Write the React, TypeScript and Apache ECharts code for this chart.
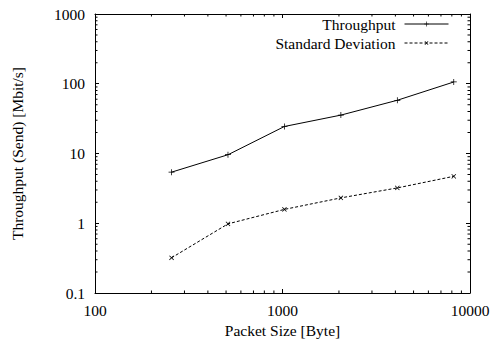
import React, { useEffect, useRef } from "react";
import * as echarts from "echarts";

const packetSizes = [256, 512, 1024, 2048, 4096, 8192];
const throughput = [5.4, 9.6, 24.4, 35.5, 58, 106];
const stdDev = [0.32, 0.98, 1.58, 2.31, 3.21, 4.71];
const xTickLabels = ["100", "1000", "10000"];
const yTickLabels = ["0.1", "1", "10", "100", "1000"];
const xMinorTicks = [200, 300, 400, 500, 600, 700, 800, 900, 2000, 3000, 4000, 5000, 6000, 7000, 8000, 9000];
const yMinorTicks = [
  0.2, 0.3, 0.4, 0.5, 0.6, 0.7, 0.8, 0.9,
  2, 3, 4, 5, 6, 7, 8, 9,
  20, 30, 40, 50, 60, 70, 80, 90,
  200, 300, 400, 500, 600, 700, 800, 900,
];

const X_MIN = 100, X_MAX = 10000, Y_MIN = 0.1, Y_MAX = 1000;
const FONT = "Liberation Serif";
const FS = 15.5;
const PLUS = "path://M-0.5,-4H0.5V-0.5H4V0.5H0.5V4H-0.5V0.5H-4V-0.5H-0.5Z";

export default function App() {
  const ref = useRef<HTMLDivElement>(null);
  useEffect(() => {
    const chart = echarts.init(ref.current!, undefined, { renderer: "svg" });
    const axisCommon = {
      type: "log" as const,
      logBase: 10,
      axisLine: { show: true, lineStyle: { color: "#000", width: 1 } },
      axisTick: { show: true, inside: true, length: 4, lineStyle: { color: "#000" } },
      splitLine: { show: false },
      minorTick: { show: false },
    };
    chart.setOption({
      animation: false,
      backgroundColor: "#fff",
      textStyle: { fontFamily: FONT, color: "#000" },
      grid: { left: 95, top: 14, right: 21, bottom: 46, containLabel: false, outerBoundsMode: "none" },
      xAxis: [
        {
          ...axisCommon,
          min: X_MIN,
          max: X_MAX,
          position: "bottom",
          name: "Packet Size [Byte]",
          nameLocation: "middle",
          nameGap: 25,
          nameTextStyle: { fontFamily: FONT, fontSize: FS, color: "#000" },
          axisLabel: {
            fontFamily: FONT,
            fontSize: FS,
            color: "#000",
            margin: 9,
            formatter: (v: number) => xTickLabels[Math.round(Math.log10(v)) - 2] ?? "",
          },
        },
        {
          ...axisCommon,
          min: X_MIN,
          max: X_MAX,
          position: "top",
          axisLabel: { show: false },
        },
      ],
      yAxis: [
        {
          ...axisCommon,
          min: Y_MIN,
          max: Y_MAX,
          position: "left",
          name: "Throughput (Send) [Mbit/s]",
          nameLocation: "middle",
          nameGap: 70,
          nameTextStyle: { fontFamily: FONT, fontSize: FS, color: "#000" },
          axisLabel: {
            fontFamily: FONT,
            fontSize: FS,
            color: "#000",
            margin: 10,
            formatter: (v: number) => yTickLabels[Math.round(Math.log10(v)) + 1] ?? "",
          },
        },
        {
          ...axisCommon,
          min: Y_MIN,
          max: Y_MAX,
          position: "right",
          axisLabel: { show: false },
        },
      ],
      legend: {
        orient: "vertical",
        right: 37,
        top: 11,
        align: "right",
        itemWidth: 44,
        itemHeight: 6,
        itemGap: 3,
        data: ["Throughput", "Standard Deviation"],
        lineStyle: { width: 1 },
        textStyle: { fontFamily: FONT, fontSize: FS, color: "#000", padding: [0, 4, 0, 0] },
      },
      series: [
        {
          name: "Throughput",
          type: "line",
          data: packetSizes.map((x, i) => [x, throughput[i]]),
          symbol: PLUS,
          symbolSize: 6,
          showSymbol: true,
          itemStyle: { color: "#000" },
          lineStyle: { color: "#000", width: 1 },
        },
        {
          name: "Standard Deviation",
          type: "line",
          data: packetSizes.map((x, i) => [x, stdDev[i]]),
          symbol: PLUS,
          symbolRotate: 45,
          symbolSize: 6,
          showSymbol: true,
          itemStyle: { color: "#000" },
          lineStyle: { color: "#000", width: 1, type: [3, 2] },
        },
      ],
    });

    const line = (x1: number, y1: number, x2: number, y2: number) => ({
      type: "line",
      silent: true,
      shape: { x1, y1, x2, y2 },
      style: { stroke: "#000", lineWidth: 1 },
    });
    const px = (v: number) => chart.convertToPixel({ xAxisIndex: 0 }, v) as number;
    const py = (v: number) => chart.convertToPixel({ yAxisIndex: 0 }, v) as number;
    const xl = px(X_MIN), xr = px(X_MAX), yb = py(Y_MIN), yt = py(Y_MAX);
    const els: any[] = [];
    const L = 2.5;
    xMinorTicks.forEach((v) => {
      const x = px(v);
      els.push(line(x, yb, x, yb - L));
      els.push(line(x, yt, x, yt + L));
    });
    yMinorTicks.forEach((v) => {
      const y = py(v);
      els.push(line(xl, y, xl + L, y));
      els.push(line(xr, y, xr - L, y));
    });
    chart.setOption({ graphic: els });
    return () => chart.dispose();
  }, []);
  return (
    <div
      ref={ref}
      style={{ position: "fixed", left: 0, top: 0, width: 491, height: 339, background: "#fff" }}
    />
  );
}
